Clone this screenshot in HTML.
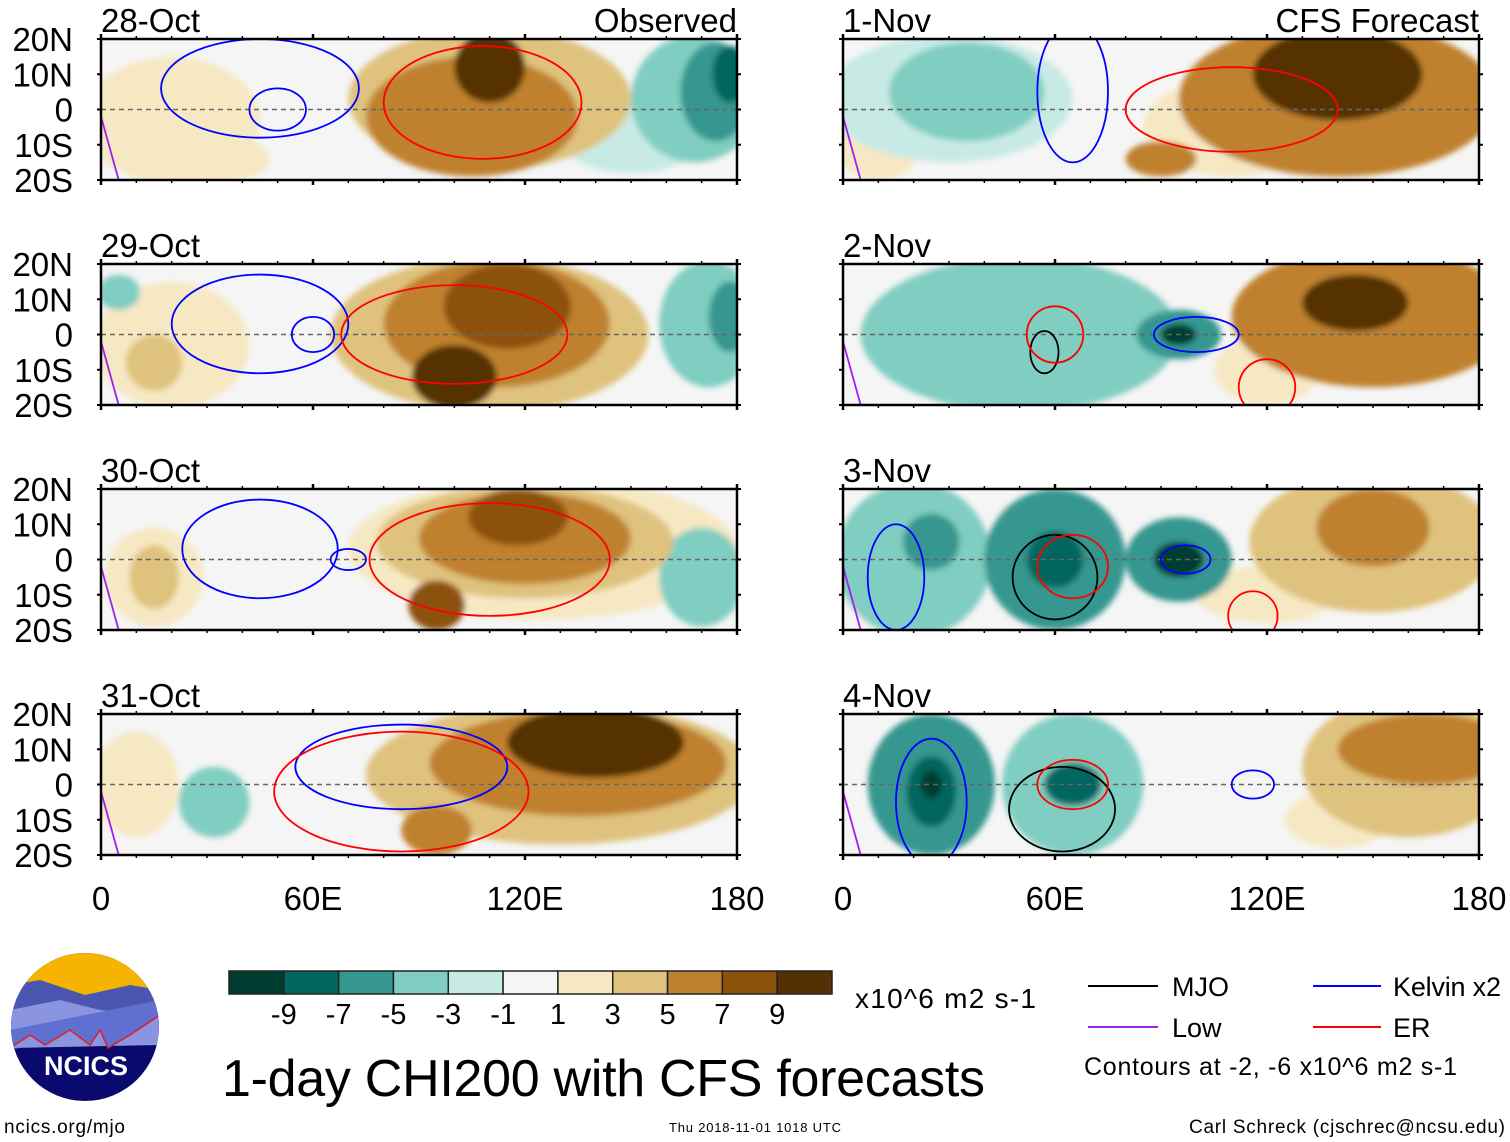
<!DOCTYPE html>
<html><head><meta charset="utf-8"><style>
html,body{margin:0;padding:0;background:#fff;}
svg{display:block;font-family:"Liberation Sans",sans-serif;}
</style></head><body>
<svg id="chart" width="1510" height="1142" viewBox="0 0 1510 1142" xmlns="http://www.w3.org/2000/svg">
<defs><filter id="soft" x="-20%" y="-20%" width="140%" height="140%"><feGaussianBlur stdDeviation="3"/></filter></defs>
<g id="panels"></g>
<g id="colorbar"></g>
<text x="855" y="1008" font-size="28" textLength="181">x10^6 m2 s-1</text>
<text x="222" y="1096" font-size="52" textLength="763">1-day CHI200 with CFS forecasts</text>
<g font-size="27">
<line x1="1088" y1="986" x2="1158" y2="986" stroke="#000" stroke-width="2"/><text x="1172" y="996">MJO</text>
<line x1="1313" y1="986" x2="1381" y2="986" stroke="#00f" stroke-width="2"/><text x="1393" y="996" textLength="108">Kelvin x2</text>
<line x1="1088" y1="1027" x2="1158" y2="1027" stroke="#a020f0" stroke-width="2"/><text x="1172" y="1037">Low</text>
<line x1="1313" y1="1027" x2="1381" y2="1027" stroke="#f00" stroke-width="2"/><text x="1393" y="1037">ER</text>
<text x="1084" y="1075" font-size="25" textLength="373">Contours at -2, -6 x10^6 m2 s-1</text>
</g>
<text x="1189" y="1133" font-size="19" textLength="316">Carl Schreck (cjschrec@ncsu.edu)</text>
<text x="4" y="1133" font-size="19" textLength="121">ncics.org/mjo</text>
<text x="669" y="1132" font-size="13" textLength="172">Thu 2018-11-01 1018 UTC</text>
<g>
<clipPath id="lc"><circle cx="85" cy="1027" r="74"/></clipPath>
<g clip-path="url(#lc)">
<rect x="10" y="952" width="150" height="150" fill="#0a0a6e"/>
<rect x="10" y="952" width="150" height="45" fill="#f6b400"/>
<path d="M10,985 L40,980 L85,995 L130,985 L160,990 L160,1020 L10,1050 Z" fill="#4a56b0"/>
<path d="M10,1010 L60,1000 L100,1010 L160,1015 L160,1045 L10,1048 Z" fill="#8a94e0"/>
<path d="M10,1048 L30,1035 L45,1045 L70,1030 L90,1045 L100,1030 L108,1048 L130,1035 L160,1015 L160,1000 L10,1030 Z" fill="#6070d0"/>
<path d="M10,1048 L30,1035 L45,1045 L70,1030 L90,1045 L100,1030 L108,1048 L130,1035 L160,1015" fill="none" stroke="#e02020" stroke-width="1.5"/>
</g>
<text x="86" y="1075" font-size="27" font-weight="bold" fill="#fff" text-anchor="middle">NCICS</text>
</g>
</svg>
<script>
const levels = [-9,-7,-5,-3,-1,1,3,5,7,9];
const levelColors = ["#003c30","#01665e","#35978f","#80cdc1","#c7eae5","#f5f5f5","#f6e8c3","#dfc27d","#bf812d","#8c510a","#543005"];
const panelDates = ["28-Oct","29-Oct","30-Oct","31-Oct","1-Nov","2-Nov","3-Nov","4-Nov"];
const latTicks = ["20N","10N","0","10S","20S"];
const lonTicks = ["0","60E","120E","180"];
// blobs: [lon, lat, rxDeg, ryDeg, value]
const blobs0 = [[20,-3,25,18,1.5],[30,-14,18,7,3],[110,3,40,20,4],[105,-2,30,17,6],[110,12,10,10,10],[150,-8,20,10,-2],[168,3,18,18,-3],[174,5,10,14,-5],[178,10,5,8,-8]];
const blobs1 = [[20,-3,22,18,2],[15,-8,8,8,4],[110,0,45,22,4],[112,3,32,18,6],[115,8,18,12,9],[100,-12,12,9,10],[172,3,14,18,-3],[178,5,6,10,-6],[5,12,6,5,-3]];
const blobs2 = [[15,-5,14,14,3],[15,-5,7,9,5],[125,3,55,20,3],[120,5,42,16,5],[120,6,30,13,7],[118,12,14,8,9],[95,-13,8,7,9],[170,-5,12,14,-3]];
const blobs3 = [[10,0,12,15,2],[130,3,55,20,4],[135,6,42,15,7],[140,12,25,10,10],[95,-13,10,7,7],[32,-5,10,10,-3]];
const blobs4 = [[10,-10,12,10,2],[30,3,35,18,-2],[35,5,22,14,-3],[110,-5,25,14,3],[140,3,45,22,6],[140,10,24,13,10],[90,-14,10,5,6]];
const blobs5 = [[50,0,45,22,-3],[50,0,20,15,-4],[120,-10,15,10,3],[150,5,40,20,6],[145,9,15,8,10],[95,0,12,7,-5],[95,0,5,3,-10]];
const blobs6 = [[120,-10,20,8,2],[150,5,35,20,4],[150,9,16,11,7],[20,0,22,22,-4],[25,5,8,8,-6],[60,0,20,20,-5],[60,0,8,8,-8],[95,0,15,12,-5],[95,0,7,5,-10]];
const blobs7 = [[140,-10,15,8,3],[160,5,30,20,4],[165,10,25,10,7],[25,0,18,20,-5],[25,-2,7,10,-7],[25,0,3,4,-10],[65,0,20,20,-4],[65,0,8,6,-8]];
const allBlobs = [blobs0,blobs1,blobs2,blobs3,blobs4,blobs5,blobs6,blobs7];
// contours: [type, lon, lat, rxDeg, ryDeg]
const contours0 = [["kelvin",45,6,28,14],["kelvin",50,0,8,6],["er",108,2,28,16]];
const contours1 = [["kelvin",45,3,25,14],["kelvin",60,0,6,5],["er",100,0,32,14]];
const contours2 = [["kelvin",45,3,22,14],["kelvin",70,0,5,3],["er",110,0,34,16]];
const contours3 = [["kelvin",85,5,30,12],["er",85,-2,36,17]];
const contours4 = [["kelvin",65,5,10,20],["er",110,0,30,12]];
const contours5 = [["mjo",57,-5,4,6],["er",60,0,8,8],["kelvin",100,0,12,5],["er",120,-15,8,8]];
const contours6 = [["mjo",60,-5,12,12],["er",65,-2,10,9],["kelvin",97,0,7,4],["kelvin",15,-5,8,15],["er",116,-16,7,7]];
const contours7 = [["mjo",62,-7,15,12],["er",65,0,10,7],["kelvin",25,-5,10,18],["kelvin",116,0,6,4]];
const allContours = [contours0,contours1,contours2,contours3,contours4,contours5,contours6,contours7];

const NS="http://www.w3.org/2000/svg";
const PW=636, PH=141;
const panelLeft=[101,843], panelTop=[39,264,489,714];
const contourColors={mjo:"#000",kelvin:"#0000ff",er:"#ff0000",low:"#a020f0"};
function el(t,a){const e=document.createElementNS(NS,t);for(const k in a)e.setAttribute(k,a[k]);return e;}
function colorFor(v){let i=0;while(i<levels.length&&v>levels[i])i++;return levelColors[i];}
const root=document.getElementById('panels');
allBlobs.forEach((blobs,p)=>{
  const col=p<4?0:1,row=p%4;
  const x0=panelLeft[col],y0=panelTop[row];
  const xs=lon=>x0+lon/180*PW;
  const ys=lat=>y0+(20-lat)/40*PH;
  const sx=PW/180, sy=PH/40;
  const g=el('g',{});
  
  
  const cid='clip'+p;
  const cp=el('clipPath',{id:cid});cp.appendChild(el('rect',{x:x0,y:y0,width:PW,height:PH}));g.appendChild(cp);
  const inner=el('g',{'clip-path':'url(#'+cid+')'});
  inner.appendChild(el('rect',{x:x0,y:y0,width:PW,height:PH,fill:"#f5f5f5"}));
  const fg=el('g',{filter:'url(#soft)'});
  blobs.slice().sort((a,b)=>Math.abs(a[4])-Math.abs(b[4])).forEach(b=>{
    const e=el('ellipse',{cx:xs(b[0]),cy:ys(b[1]),rx:b[2]*sx,ry:b[3]*sy,fill:colorFor(b[4])});
    
    
    fg.appendChild(e);
  });
  inner.appendChild(fg);
  inner.appendChild(el('line',{x1:x0,y1:ys(0),x2:x0+PW,y2:ys(0),stroke:"#666",'stroke-width':1.5,'stroke-dasharray':'5,4'}));
  allContours[p].forEach(c=>{
    const e=el('ellipse',{cx:xs(c[1]),cy:ys(c[2]),rx:c[3]*sx,ry:c[4]*sy,fill:'none',stroke:contourColors[c[0]],'stroke-width':1.8});
    
    
    inner.appendChild(e);
  });
  inner.appendChild(el('path',{d:`M${xs(0)},${ys(-2)} L${xs(5)},${ys(-20)}`,stroke:contourColors.low,'stroke-width':1.8,fill:'none'}));
  g.appendChild(inner);
  g.appendChild(el('rect',{x:x0,y:y0,width:PW,height:PH,fill:'none',stroke:'#000','stroke-width':2.5}));
  for(let lo=0;lo<=180;lo+=10){const big=lo%60===0;
    g.appendChild(el('line',{x1:xs(lo),y1:y0-(big?5:3),x2:xs(lo),y2:y0,stroke:'#000','stroke-width':big?2.5:1.5}));
    g.appendChild(el('line',{x1:xs(lo),y1:y0+PH,x2:xs(lo),y2:y0+PH+(big?5:3),stroke:'#000','stroke-width':big?2.5:1.5}));}
  for(let la=-20;la<=20;la+=10){
    g.appendChild(el('line',{x1:x0-4,y1:ys(la),x2:x0,y2:ys(la),stroke:'#000','stroke-width':2}));
    g.appendChild(el('line',{x1:x0+PW,y1:ys(la),x2:x0+PW+4,y2:ys(la),stroke:'#000','stroke-width':2}));}
  const t=el('text',{x:x0,y:y0-7,'font-size':33});t.textContent=panelDates[p];
  
  
  g.appendChild(t);
  if(row===0){const t2=el('text',{x:x0+PW,y:y0-7,'font-size':33,'text-anchor':'end'});t2.textContent=col===0?'Observed':'CFS Forecast';
    
    
    g.appendChild(t2);}
  if(col===0){latTicks.forEach((lb,i)=>{const la=20-i*10;const tt=el('text',{x:73,y:ys(la)+12,'font-size':33,'text-anchor':'end'});tt.textContent=lb;
    
    
    g.appendChild(tt);});}
  if(row===3){lonTicks.forEach((lb,i)=>{const tt=el('text',{x:xs(i*60),y:910,'font-size':33,'text-anchor':'middle'});tt.textContent=lb;
    
    
    g.appendChild(tt);});}
  root.appendChild(g);
});
const cb=document.getElementById('colorbar');
const cbX=229,cbW=603,cbY=971,cbH=23,bw=cbW/levelColors.length;
levelColors.forEach((c,i)=>{
  const r=el('rect',{x:cbX+i*bw,y:cbY,width:bw,height:cbH,fill:c,stroke:'#222','stroke-width':1.5});
  
  
  cb.appendChild(r);
});
levels.forEach((v,i)=>{const t=el('text',{x:cbX+(i+1)*bw,y:1024,'font-size':29,'text-anchor':'middle'});t.textContent=v;
  
  
  cb.appendChild(t);});
</script>
</body></html>
